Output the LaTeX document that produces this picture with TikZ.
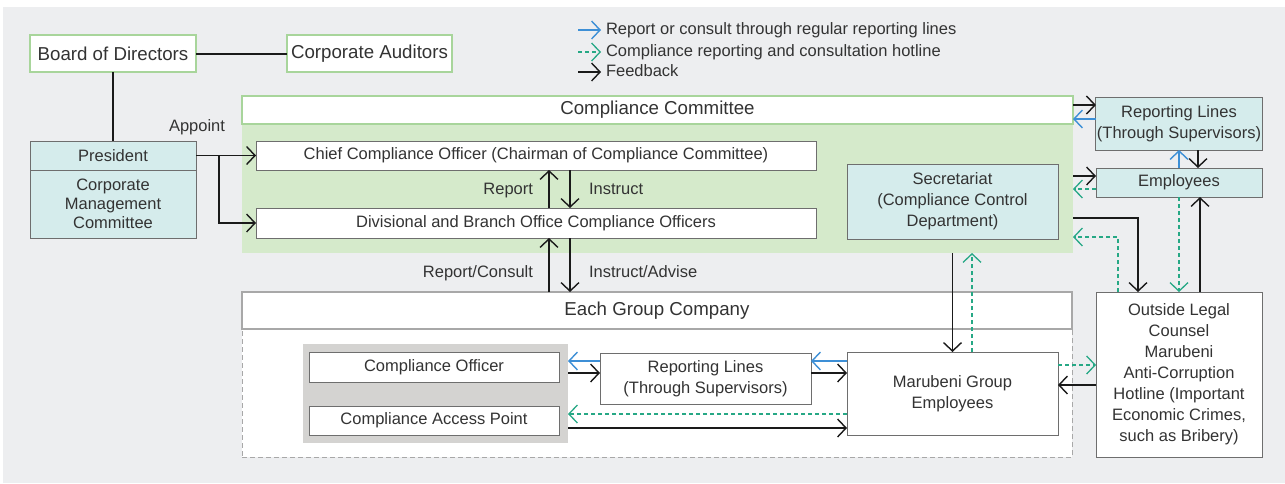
\documentclass[tikz,border=0pt]{standalone}
\usepackage{fontspec}
\setmainfont{Liberation Sans}
\usepackage{tikz}
\usetikzlibrary{arrows.meta, positioning}
\definecolor{bggray}{HTML}{EDEEF0}
\definecolor{ccgreen}{HTML}{D5EACB}
\definecolor{grnline}{HTML}{A8D59B}
\definecolor{tealfill}{HTML}{D5ECEC}
\definecolor{boxline}{HTML}{6E6E6E}
\definecolor{egcline}{HTML}{A8A8A8}
\definecolor{panelgray}{HTML}{D4D3D1}
\definecolor{repblue}{HTML}{3D8FD6}
\definecolor{hotgreen}{HTML}{26A885}
\definecolor{fbblack}{HTML}{1A1A1A}
\definecolor{txt}{HTML}{333333}

\begin{document}
\begin{tikzpicture}[
    x=1pt, y=-1pt,
    every node/.style={font=\fontsize{16.5}{21}\selectfont, text=txt, outer sep=0pt},
    topbox/.style={rectangle, draw=grnline, line width=1.5pt, fill=white, minimum height=37pt, font=\fontsize{18.7}{22}\selectfont},
    plainbox/.style={rectangle, draw=boxline, line width=1pt, fill=white, align=center, inner sep=1pt},
    tealbox/.style={plainbox, fill=tealfill},
    headbox/.style={rectangle, fill=white, line width=1.5pt, minimum width=831pt, font=\fontsize{18.7}{22}\selectfont},
    lbl/.style={inner sep=0pt, text height=12pt, text depth=3.5pt},
    fb/.style={draw=fbblack, line width=1.8pt, -{Straight Barb[length=8.5pt, width=18pt, line width=1.4pt]}},
    rep/.style={fb, draw=repblue},
    hot/.style={draw=hotgreen, line width=1.4pt, dash pattern=on 4pt off 3pt, -{Straight Barb[length=8.5pt, width=18pt, line width=1.3pt]}},
    link/.style={draw=fbblack, line width=2pt}
]

\useasboundingbox (0,0) rectangle (1285,483);
\fill[bggray] (3,7) rectangle (1285,483);

% Board, auditors and president
\node[topbox, minimum width=166pt] (board) at (113,53.5) {Board of Directors};
\node[topbox, minimum width=165pt] (auditors) at (369.5,53.5) {Corporate Auditors};
\node[tealbox, minimum width=166pt, minimum height=29pt] (president) at (113,155.5) {President};
\node[tealbox, minimum width=166pt, minimum height=68pt, font=\fontsize{16.5}{18.8}\selectfont] (cmc) at (113,204) {Corporate\\Management\\Committee};

\draw[link] (board) -- (auditors);
\draw[link] (board) -- (president);

% Compliance Committee
\node[fill=ccgreen, minimum width=831pt, minimum height=157pt, inner sep=0pt] (ccarea) at (657.5,174.5) {};
\node[headbox, draw=grnline, minimum height=28pt] (cc) at (657.5,110) {Compliance Committee};
\node[plainbox, minimum width=560pt, minimum height=29pt] (cco) at (536,155.5) {Chief Compliance Officer (Chairman of Compliance Committee)};
\node[plainbox, minimum width=560pt, minimum height=30pt] (dbo) at (536,223) {Divisional and Branch Office Compliance Officers};
\node[tealbox, minimum width=211pt, minimum height=75pt] (secr) at (952.5,201.5) {Secretariat\\(Compliance Control\\Department)};

\node[lbl] (appoint) at (197,127) {Appoint};
\coordinate (split) at (219,155.5);
\draw[fb] (president.east) -- (cco.west);
\draw[fb] (split) |- (dbo.west);

\node[lbl, anchor=east] (report) at (533,190) {Report};
\node[lbl, anchor=west] (instruct) at (589,190) {Instruct};
\draw[fb] (549,0 |- dbo.north) -- (549,0 |- cco.south);
\draw[fb] (570,0 |- cco.south) -- (570,0 |- dbo.north);

% Each Group Company
\node[draw=egcline, dash pattern=on 5pt off 3pt, line width=1pt, fill=white, minimum width=830pt, minimum height=165pt, inner sep=0pt] (grp) at (657,374.5) {};
\node[headbox, draw=egcline, minimum width=830pt, minimum height=37pt] (egc) at (657,310.5) {Each Group Company};
\node[fill=panelgray, minimum width=265pt, minimum height=99pt, inner sep=0pt] (panel) at (435.5,393.5) {};
\node[plainbox, minimum width=250pt, minimum height=30pt] (co) at (434,367) {Compliance Officer};
\node[plainbox, minimum width=250pt, minimum height=29pt] (cap) at (434,420.5) {Compliance Access Point};
\node[plainbox, minimum width=211pt, minimum height=51pt] (rlg) at (705.5,378.5) {Reporting Lines\\(Through Supervisors)};
\node[plainbox, minimum width=211pt, minimum height=83pt] (mge) at (952.5,393.5) {Marubeni Group\\Employees};

\node[lbl, anchor=east] (repcon) at (533,273) {Report/Consult};
\node[lbl, anchor=west] (insadv) at (589,273) {Instruct/Advise};
\draw[fb] (549,0 |- egc.north) -- (549,0 |- dbo.south);
\draw[fb] (570,0 |- dbo.south) -- (570,0 |- egc.north);

\draw[fb] (ccarea.south -| mge.north) -- (mge.north);
\draw[hot] (972,0 |- mge.north) -- (972,0 |- ccarea.south);

\draw[rep] (rlg.west |- 0,361) -- (panel.east |- 0,361);
\draw[fb] (panel.east |- 0,373) -- (rlg.west |- 0,373);
\draw[hot] (mge.west |- 0,414) -- (panel.east |- 0,414);
\draw[fb] (panel.east |- 0,428) -- (mge.west |- 0,428);
\draw[rep] (mge.west |- 0,361) -- (rlg.east |- 0,361);
\draw[fb] (rlg.east |- 0,373) -- (mge.west |- 0,373);

% Right column
\node[tealbox, minimum width=166pt, minimum height=53pt] (rlr) at (1179,123.5) {Reporting Lines\\(Through Supervisors)};
\node[tealbox, minimum width=166pt, minimum height=29pt] (emp) at (1179,182.5) {Employees};
\node[plainbox, minimum width=166pt, minimum height=165pt] (olc) at (1179,374.5) {Outside Legal\\Counsel\\Marubeni\\Anti-Corruption\\Hotline (Important\\Economic Crimes,\\such as Bribery)};

\draw[fb] (ccarea.east |- 0,105) -- (rlr.west |- 0,105);
\draw[rep] (rlr.west |- 0,119) -- (ccarea.east |- 0,119);
\draw[rep] (emp.north) -- (emp.north |- rlr.south);
\draw[fb] (1198,0 |- rlr.south) -- (1198,0 |- emp.north);
\draw[fb] (ccarea.east |- 0,176) -- (emp.west |- 0,176);
\draw[hot] (emp.west |- 0,189) -- (ccarea.east |- 0,189);
\draw[fb] (ccarea.east |- 0,218) -| (1138,0 |- olc.north);
\draw[hot] (1118,0 |- olc.north) |- (ccarea.east |- 0,237);
\draw[hot] (emp.south) -- (emp.south |- olc.north);
\draw[fb] (1200,0 |- olc.north) -- (1200,0 |- emp.south);
\draw[hot] (mge.east |- 0,365) -- (olc.west |- 0,365);
\draw[fb] (olc.west |- 0,385) -- (mge.east |- 0,385);

% Legend
\node[lbl, anchor=west] (lgrep) at (606,30) {Report or consult through regular reporting lines};
\node[lbl, anchor=west] (lghot) at (606,52) {Compliance reporting and consultation hotline};
\node[lbl, anchor=west] (lgfb) at (606,72) {Feedback};
\draw[rep] ([xshift=-28pt]lgrep.west) -- ([xshift=-5pt]lgrep.west);
\draw[hot] ([xshift=-28pt]lghot.west) -- ([xshift=-5pt]lghot.west);
\draw[fb] ([xshift=-28pt]lgfb.west) -- ([xshift=-5pt]lgfb.west);

\end{tikzpicture}
\end{document}
